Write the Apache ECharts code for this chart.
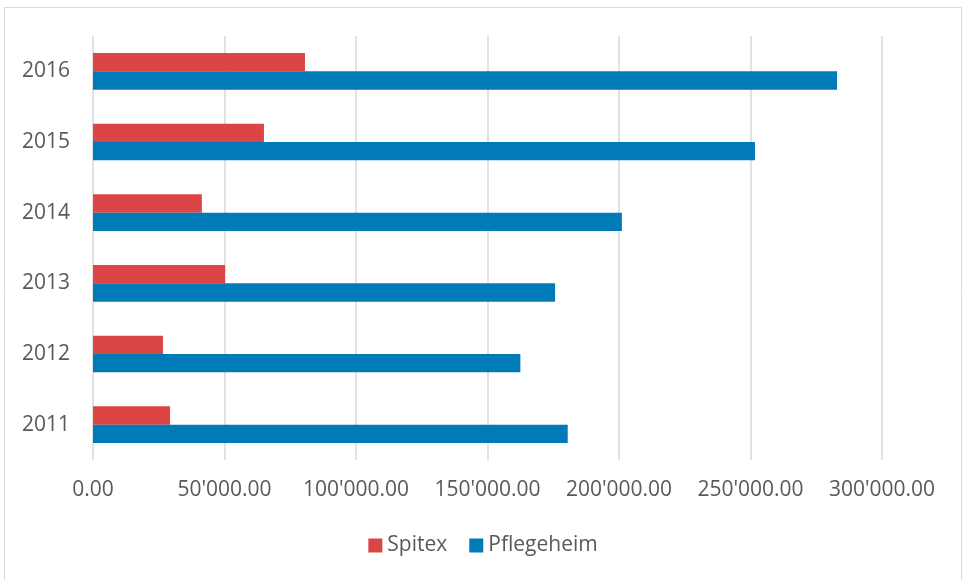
<!DOCTYPE html>
<html>
<head>
    <meta charset="utf-8">
    <title>Spitex / Pflegeheim</title>
    <script src="https://cdn.jsdelivr.net/npm/echarts@6/dist/echarts.min.js"></script>
    <style>
        body { margin: 0; background: #fff; }
        #main { width: 966px; height: 580px; }
    </style>
</head>
<body>
<div id="main"></div>

<script type="text/javascript">
    var years = ['2011', '2012', '2013', '2014', '2015', '2016'];
    var spitex = [29300, 26600, 50200, 41400, 65000, 80600];
    var pflegeheim = [180500, 162500, 175700, 201100, 251700, 282900];
    var xTicks = [0, 50000, 100000, 150000, 200000, 250000, 300000];

    // 300000 -> 300'000.00
    function fmt(v) {
        var s = String(Math.round(v)).replace(/\B(?=(\d{3})+(?!\d))/g, "'");
        return s + '.00';
    }

    var font = "'Open Sans', 'Noto Sans', sans-serif";

    var myChart = echarts.init(document.getElementById('main'));
    myChart.setOption({
        animation: false,
        textStyle: { fontFamily: font },
        graphic: [{
            type: 'rect',
            shape: { x: 4.5, y: 7.5, width: 957, height: 590 },
            style: { fill: null, stroke: '#d9d9d9', lineWidth: 1 },
            silent: true
        }],
        legend: {
            data: ['Spitex', 'Pflegeheim'],
            bottom: 19,
            left: 'center',
            itemWidth: 14,
            itemHeight: 14,
            itemGap: 22,
            icon: 'rect',
            textStyle: { fontSize: 21, color: '#595959', fontFamily: font }
        },
        grid: {
            left: 93,
            right: 84,
            top: 36,
            height: 424
        },
        xAxis: {
            type: 'value',
            min: xTicks[0],
            max: xTicks[xTicks.length - 1],
            interval: 50000,
            axisLine: { show: false },
            axisTick: { show: false },
            axisLabel: {
                formatter: fmt,
                fontSize: 21,
                color: '#595959',
                margin: 20
            },
            splitLine: { lineStyle: { color: '#d9d9d9', width: 1.5 } }
        },
        yAxis: {
            type: 'category',
            data: years,
            axisLine: { show: false },
            axisTick: { show: false },
            axisLabel: { fontSize: 21, color: '#595959', margin: 23 }
        },
        series: [{
            name: 'Spitex',
            type: 'bar',
            data: spitex,
            color: '#dc4545',
            barWidth: 18.3,
            barGap: '0%'
        }, {
            name: 'Pflegeheim',
            type: 'bar',
            data: pflegeheim,
            color: '#007bb8',
            barWidth: 18.3,
            barGap: '0%'
        }]
    });
</script>
</body>
</html>
